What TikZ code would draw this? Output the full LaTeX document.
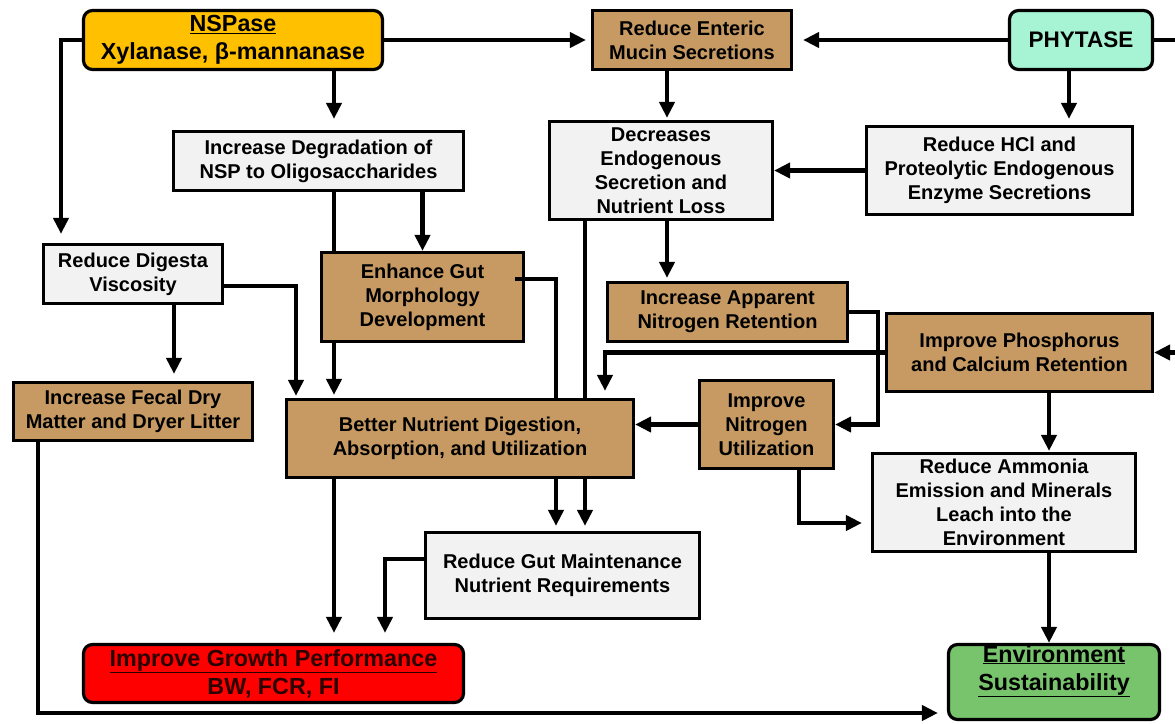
\documentclass[tikz,border=0pt]{standalone}
\usepackage{fontspec}
\setmainfont{Liberation Sans}
\usetikzlibrary{arrows.meta,calc}
\definecolor{tanc}{HTML}{C69A62}
\definecolor{grayc}{HTML}{F2F2F2}
\definecolor{goldc}{HTML}{FFC000}
\definecolor{mintc}{HTML}{A6F4D4}
\definecolor{redc}{HTML}{FF0000}
\definecolor{greenc}{HTML}{78C46C}
\definecolor{darkt}{HTML}{2A0000}
\begin{document}
\begin{tikzpicture}[x=1pt,y=-1pt,
  box/.style={draw=black, line width=3.2pt, align=center, inner sep=0pt, text=black,
    font=\bfseries\fontsize{20}{24}\selectfont},
  tanbox/.style={box, fill=tanc},
  graybox/.style={box, fill=grayc},
  roundbox/.style={box, rounded corners=9pt},
  bigfont/.style={font=\bfseries\fontsize{23.3}{28}\selectfont},
  con/.style={line width=4.2pt},
  arr/.style={con, -{Triangle[length=16pt,width=15pt]}},
]
\useasboundingbox (0,0) rectangle (1175,723);

% nodes
\node[roundbox, fill=goldc, bigfont, minimum width=299pt, minimum height=59pt] (nsp) at (233,40) {\underline{NSPase}\\Xylanase, β-mannanase};
\node[tanbox, minimum width=199pt, minimum height=59pt] (enteric) at (692,40) {Reduce Enteric\\Mucin Secretions};
\node[roundbox, fill=mintc, minimum width=143pt, minimum height=59pt, font=\bfseries\fontsize{22.5}{27}\selectfont] (phytase) at (1081,40) {PHYTASE};
\node[graybox, minimum width=290pt, minimum height=59pt] (degr) at (318.5,161) {Increase Degradation of\\NSP to Oligosaccharides};
\node[graybox, minimum width=223pt, minimum height=98pt] (decr) at (661,170.5) {Decreases\\Endogenous\\Secretion and\\Nutrient Loss};
\node[graybox, minimum width=266pt, minimum height=88pt] (hcl) at (999.5,170.5) {Reduce HCl and\\Proteolytic Endogenous\\Enzyme Secretions};
\node[graybox, minimum width=179pt, minimum height=59pt] (visc) at (133,274) {Reduce Digesta\\Viscosity};
\node[tanbox, minimum width=202pt, minimum height=89pt] (enh) at (422.5,297) {Enhance Gut\\Morphology\\Development};
\node[tanbox, minimum width=240pt, minimum height=59pt] (appn) at (727.5,312) {Increase Apparent\\Nitrogen Retention};
\node[tanbox, minimum width=266pt, minimum height=78pt] (phos) at (1019.5,352.5) {Improve Phosphorus\\and Calcium Retention};
\node[tanbox, minimum width=239pt, minimum height=58pt] (fecal) at (133,411.5) {Increase Fecal Dry\\Matter and Dryer Litter};
\node[tanbox, minimum width=347pt, minimum height=78pt] (better) at (460,438.5) {Better Nutrient Digestion,\\Absorption, and Utilization};
\node[tanbox, minimum width=134pt, minimum height=88pt] (nutil) at (766.5,424.5) {Improve\\Nitrogen\\Utilization};
\node[graybox, minimum width=263pt, minimum height=98pt] (ammon) at (1004,502.5) {Reduce Ammonia\\Emission and Minerals\\Leach into the\\Environment};
\node[graybox, minimum width=274pt, minimum height=86pt] (gut) at (562.5,575.5) {Reduce Gut Maintenance\\Nutrient Requirements};
\node[roundbox, fill=redc, bigfont, text=darkt, minimum width=380pt, minimum height=58pt] (growth) at (273.5,673.5) {\underline{Improve Growth Performance}\\BW, FCR, FI};
\node[roundbox, fill=greenc, minimum width=211pt, minimum height=75pt] (env) at (1054,682) {};
\node[bigfont, align=center, inner sep=0pt] (envtxt) at (1054,671) {\underline{Environment}\\\underline{Sustainability}};

% column / row helpers
\coordinate (c38) at (38,0);
\coordinate (c61) at (61,0);
\coordinate (c174) at (174,0);
\coordinate (c296) at (296,0);
\coordinate (c334) at (334,0);
\coordinate (c385) at (385,0);
\coordinate (c556) at (556,0);
\coordinate (c585) at (585,0);
\coordinate (c605) at (605,0);
\coordinate (c667) at (667,0);
\coordinate (c799) at (799,0);
\coordinate (c878) at (878,0);
\coordinate (c1049) at (1049,0);
\coordinate (c1069) at (1069,0);
\coordinate (c1182) at (1182,0);
\coordinate (r286) at (0,286);
\coordinate (r523) at (0,523);
\coordinate (r559) at (0,559);
\coordinate (r713) at (0,713);
\coordinate (encs) at ($(enh.east)+(-10,-18)$);

% connectors
\draw[arr, shorten >=9pt] (nsp.west) -| (visc.north -| c61);
\draw[arr, shorten >=5pt] (nsp.east) -- (enteric.west);
\draw[arr, shorten >=10pt] (phytase.west) -- (enteric.east);
\draw[arr, shorten >=11pt] (nsp.south -| c334) -- (degr.north -| c334);
\draw[con] (degr.south -| c334) -- (enh.north -| c334);
\draw[arr, shorten >=3pt] (enh.south -| c334) -- (better.north -| c334);
\draw[arr, shorten >=10pt] (better.south -| c334) -- (growth.north -| c334);
\draw[arr] (degr.south -| enh.north) -- (enh.north);
\draw[arr, shorten >=7pt] (visc.south -| c174) -- (fecal.north -| c174);
\draw[arr, shorten >=2pt] (visc.east |- r286) -| (better.north -| c296);
\draw[con] (encs) -| (better.north -| c556);
\draw[arr, shorten >=5pt] (better.south -| c556) -- (gut.north -| c556);
\draw[con] (decr.south -| c585) -- (better.north -| c585);
\draw[arr, shorten >=5pt] (better.south -| c585) -- (gut.north -| c585);
\draw[arr, shorten >=2pt] (enteric.south -| c667) -- (decr.north -| c667);
\draw[arr, shorten >=3pt] (decr.south -| c667) -- (appn.north -| c667);
\draw[arr] (hcl.west) -- (hcl.west -| decr.east);
\draw[arr, shorten >=6pt] (phytase.south -| c1069) -- (hcl.north -| c1069);
\draw[arr] (appn.east) -| (c878 |- nutil.east) -- (nutil.east);
\draw[arr, shorten >=7pt] (phos.west) -| (better.north -| c605);
\draw[arr] (nutil.west) -- (nutil.west -| better.east);
\draw[arr, shorten >=9pt] (nutil.south -| c799) |- (ammon.west |- r523);
\draw[arr, shorten >=1pt] (phos.south -| c1049) -- (ammon.north -| c1049);
\draw[arr] (ammon.south -| c1049) -- (env.north -| c1049);
\draw[arr, shorten >=10pt] (gut.west |- r559) -| (growth.north -| c385);
\draw[arr, shorten >=9pt] (fecal.south -| c38) |- (env.west |- r713);
\draw[arr] (phytase.east) -| (c1182 |- phos.east) -- (phos.east);
\end{tikzpicture}
\end{document}
